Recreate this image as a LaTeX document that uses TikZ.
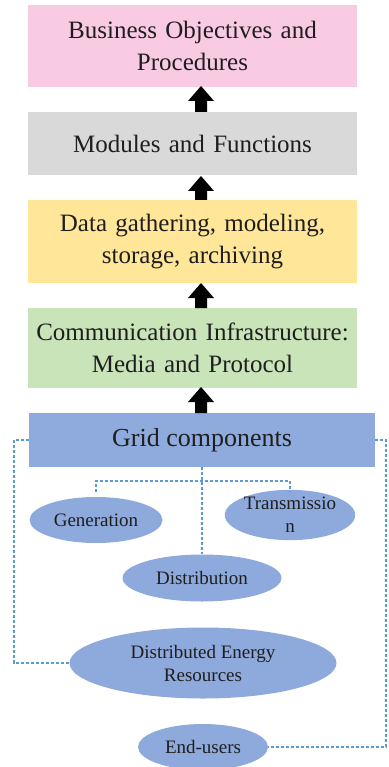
\documentclass[tikz,border=0pt]{standalone}
\usepackage{fontspec}
\setmainfont{Liberation Serif}
\usetikzlibrary{shapes.geometric,calc}
\definecolor{pinkfill}{HTML}{F8CBE3}
\definecolor{grayfill}{HTML}{D9D9D9}
\definecolor{yellowfill}{HTML}{FFE699}
\definecolor{greenfill}{HTML}{C9E4B8}
\definecolor{bluefill}{HTML}{8FAADC}
\definecolor{ellfill}{HTML}{8EA9DB}
\definecolor{dashblue}{HTML}{5B9BD5}
\definecolor{inktext}{HTML}{1E1E1E}
\tikzset{
  layer/.style={rectangle, minimum width=329pt, text width=325pt, align=center,
    font=\fontsize{25}{32}\selectfont, inner sep=0pt, text=inktext},
  comp/.style={ellipse, inner sep=0pt, align=center,
    font=\fontsize{19}{23}\selectfont, text=inktext},
  link/.style={dashblue, line width=2pt, dash pattern=on 3pt off 2pt}
}
% black block arrow pointing up: bottom point, tip point
\newcommand{\blockarrow}[2]{%
  \fill[black] ($(#1)+(-6,0)$) -- ($(#1)+(6,0)$) -- ($(#2)+(6,15)$) -- ($(#2)+(13,15)$)
    -- (#2) -- ($(#2)+(-13,15)$) -- ($(#2)+(-6,15)$) -- cycle;}
\begin{document}
\begin{tikzpicture}[x=1pt,y=-1pt]
\useasboundingbox (0,0) rectangle (388,767);
\clip (0,0) rectangle (388,767);
% stacked layers
\node[layer, fill=pinkfill, minimum height=82pt] (obj) at (192.5,46) {Business Objectives and\\Procedures};
\node[layer, fill=grayfill, minimum height=63pt] (mod) at (192.5,143.5) {Modules and Functions};
\node[layer, fill=yellowfill, minimum height=83pt] (data) at (192.5,241.5) {Data gathering, modeling,\\storage, archiving};
\node[layer, fill=greenfill, minimum height=80pt] (comm) at (192.5,348) {Communication Infrastructure:\\Media and Protocol};
\node[rectangle, fill=bluefill, minimum width=346pt, minimum height=54pt, inner sep=0pt,
  font=\fontsize{26}{30}\selectfont, text=inktext] (grid) at (202,440) {Grid components};
% arrows between layers
\coordinate (a1b) at (201,112); \coordinate (a1t) at (201,86);
\coordinate (a2b) at (201,200); \coordinate (a2t) at (201,176);
\coordinate (a3b) at (201,308); \coordinate (a3t) at (201,283);
\coordinate (a4b) at (201,413); \coordinate (a4t) at (201,387);
\blockarrow{a1b}{a1t}
\blockarrow{a2b}{a2t}
\blockarrow{a3b}{a3t}
\blockarrow{a4b}{a4t}
% grid components
\node[comp, fill=ellfill, minimum width=133pt, minimum height=46pt] (gen) at (96,520) {Generation};
\node[comp, fill=ellfill, minimum width=126pt, minimum height=49pt] (trans) at (290,515) {Transmissio\\n};
\node[comp, fill=ellfill, minimum width=159pt, minimum height=47pt] (dist) at (202,578) {Distribution};
\node[comp, fill=ellfill, minimum width=267pt, minimum height=71pt] (der) at (203,663) {Distributed Energy\\Resources};
\node[comp, fill=ellfill, minimum width=130pt, minimum height=46pt] (end) at (203,747) {End-users};
% dashed links
\coordinate (hub) at (202,481);
\draw[link] (grid.south) -- (dist.north);
\draw[link] (gen.north) ++(0,-5) |- (hub) -| ([yshift=-2pt]trans.north);
\draw[link] (grid.west) -- (14,440) |- (der.west);
\draw[link] (grid.east) -- (386,440) |- (end.east);
\end{tikzpicture}
\end{document}
